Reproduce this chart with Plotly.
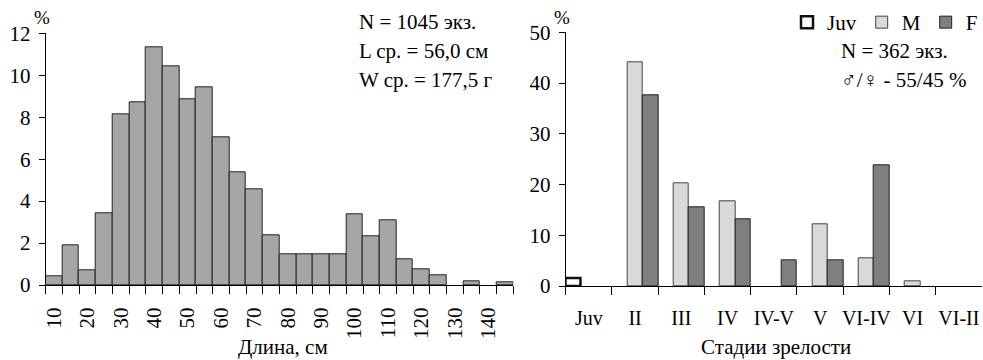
import plotly.graph_objects as go

W, H = 983, 360

# Length-frequency histogram (5 cm bins, labelled by bin centre)
length_bins = [10, 15, 20, 25, 30, 35, 40, 45, 50, 55, 60, 65, 70, 75,
               80, 85, 90, 95, 100, 105, 110, 115, 120, 125, 130, 135, 140, 145]
length_pct = [0.43, 1.91, 0.68, 3.42, 8.14, 8.70, 11.32, 10.45, 8.84, 9.41,
              7.04, 5.36, 4.58, 2.37, 1.48, 1.48, 1.48, 1.45, 3.35, 2.32,
              3.07, 1.22, 0.75, 0.46, None, 0.16, None, 0.11]
length_ticks = [10, 20, 30, 40, 50, 60, 70, 80, 90, 100, 110, 120, 130, 140]

# Maturity stages by group (None = no fish in that stage)
stages = ["Juv", "II", "III", "IV", "IV-V", "V", "VI-IV", "VI", "VI-II"]
juv_pct = [1.5, None, None, None, None, None, None, None, None]
male_pct = [None, 44.1, 20.3, 16.7, None, 12.2, 5.5, 0.9, None]
female_pct = [None, 37.6, 15.5, 13.1, 5.0, 5.0, 23.8, None, None]

FONT = "Times New Roman"


def px_x(p):
    return p / W


def px_y(p):
    return (H - p) / H


def font(size):
    return dict(family=FONT, size=size, color="black")


fig = go.Figure()

fig.add_trace(go.Bar(
    x=length_bins, y=length_pct, width=5,
    marker=dict(color="#a6a6a6", line=dict(color="#222222", width=1)),
    showlegend=False, xaxis="x", yaxis="y",
))

fig.add_trace(go.Bar(
    x=stages, y=juv_pct, name="Juv",
    marker=dict(color="#ffffff", line=dict(color="#111111", width=2.5)),
    xaxis="x2", yaxis="y2",
))
fig.add_trace(go.Bar(
    x=stages, y=male_pct, name="M",
    marker=dict(color="#d9d9d9", line=dict(color="#444444", width=1)),
    xaxis="x2", yaxis="y2",
))
fig.add_trace(go.Bar(
    x=stages, y=female_pct, name="F",
    marker=dict(color="#7f7f7f", line=dict(color="#222222", width=1)),
    xaxis="x2", yaxis="y2",
))

fig.update_layout(
    template="none",
    width=W, height=H,
    margin=dict(l=0, r=0, t=0, b=0, autoexpand=False),
    paper_bgcolor="white", plot_bgcolor="white",
    barmode="group", bargap=0, bargroupgap=0,
    font=font(21),
    xaxis=dict(
        domain=[px_x(45.7), px_x(513.3)],
        range=[7.5, 147.5], automargin=False,
        tickmode="array", tickvals=length_ticks,
        ticks="outside", ticklen=8, tickcolor="rgba(0,0,0,0)",
        ticklabelstandoff=5,
        tickangle=-90, tickfont=font(21),
        showline=True, linecolor="black", linewidth=1,
        showgrid=False, zeroline=False,
        minor=dict(tickmode="linear", tick0=7.5, dtick=5, ticks="outside",
                   ticklen=8, tickcolor="black", showgrid=False),
    ),
    yaxis=dict(
        domain=[px_y(285), px_y(33.3)],
        range=[0, 12], dtick=2, automargin=False,
        ticks="outside", ticklen=6, tickcolor="black",
        ticklabelstandoff=4,
        tickfont=font(21),
        showline=True, linecolor="black", linewidth=1,
        showgrid=False, zeroline=False,
    ),
    xaxis2=dict(
        domain=[px_x(565.7), px_x(982)],
        type="category", tickson="boundaries", automargin=False,
        ticks="outside", ticklen=8, tickcolor="black",
        tickangle=0,
        tickfont=font(20),
        ticklabelstandoff=14,
        showline=True, linecolor="black", linewidth=1,
        showgrid=False, zeroline=False,
        anchor="y2",
    ),
    yaxis2=dict(
        domain=[px_y(286), px_y(32.3)],
        range=[0, 50], dtick=10, automargin=False,
        ticks="outside", ticklen=6, tickcolor="black",
        ticklabelstandoff=4,
        tickfont=font(21),
        showline=True, linecolor="black", linewidth=1,
        showgrid=False, zeroline=False,
        anchor="x2",
    ),
    legend=dict(
        orientation="h", x=1.0, xanchor="right",
        y=px_y(2), yanchor="top",
        font=font(21),
        itemwidth=30, bgcolor="rgba(0,0,0,0)",
        traceorder="normal",
    ),
)

annotations = [
    # left panel
    dict(text="%", x=px_x(42), y=px_y(17), size=19),
    dict(text="N = 1045 экз.", x=px_x(357), y=px_y(22), xanchor="left"),
    dict(text="L ср. = 56,0 см", x=px_x(357), y=px_y(51), xanchor="left"),
    dict(text="W ср. = 177,5 г", x=px_x(357), y=px_y(80), xanchor="left"),
    dict(text="Длина, см", x=px_x(283), y=px_y(347)),
    # right panel
    dict(text="%", x=px_x(562), y=px_y(17), size=19),
    dict(text="N = 362 экз.", x=px_x(839), y=px_y(51), xanchor="left"),
    dict(text="♂/♀ - 55/45 %", x=px_x(839), y=px_y(80), xanchor="left"),
    dict(text="Стадии зрелости", x=px_x(776), y=px_y(347)),
]
for a in annotations:
    a.setdefault("xanchor", "center")
    size = a.pop("size", 21)
    fig.add_annotation(
        xref="paper", yref="paper", yanchor="middle", showarrow=False,
        font=font(size), **a,
    )

fig.write_html("out.html")
